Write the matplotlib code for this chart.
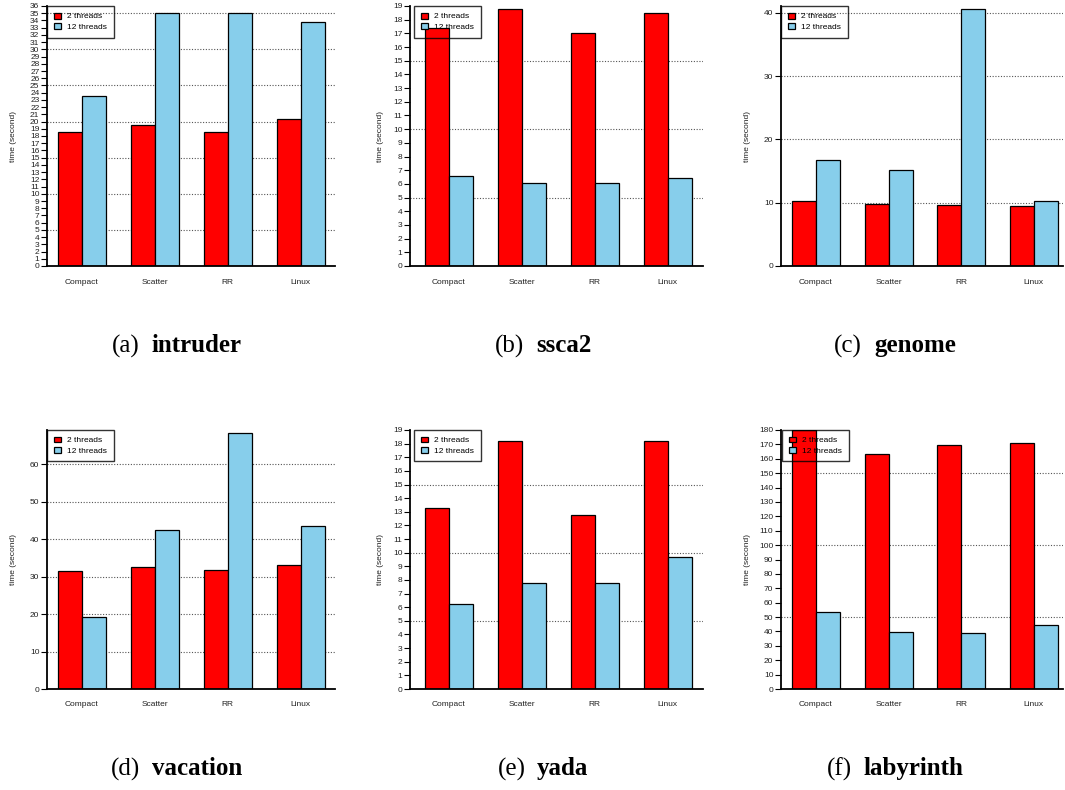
import matplotlib
matplotlib.use("Agg")
import matplotlib.pyplot as plt
import numpy as np
from matplotlib.offsetbox import TextArea, HPacker, AnchoredOffsetbox

plt.rcParams['font.family'] = ['Liberation Sans', 'DejaVu Sans']

# ---------------- data ----------------
categories = ["Compact", "Scatter", "RR", "Linux"]
series_labels = ["2 threads", "12 threads"]
benchmarks = ["intruder", "ssca2", "genome", "vacation", "yada", "labyrinth"]
letters = ["(a)", "(b)", "(c)", "(d)", "(e)", "(f)"]

intruder_2 = [18.5, 19.5, 18.5, 20.3]
intruder_12 = [23.5, 35.0, 35.1, 33.8]
ssca2_2 = [17.4, 18.8, 17.0, 18.5]
ssca2_12 = [6.6, 6.1, 6.1, 6.4]
genome_2 = [10.3, 9.8, 9.7, 9.5]
genome_12 = [16.8, 15.2, 40.6, 10.3]
vacation_2 = [31.6, 32.6, 31.7, 33.1]
vacation_12 = [19.2, 42.4, 68.3, 43.6]
yada_2 = [13.3, 18.2, 12.8, 18.2]
yada_12 = [6.2, 7.8, 7.8, 9.7]
labyrinth_2 = [180.0, 163.0, 169.5, 170.7]
labyrinth_12 = [53.7, 39.7, 39.0, 44.3]

ylabel_text = "time (second)"

# ---------------- layout / styles ----------------
W, H = 1065, 790
series = [(intruder_2, intruder_12), (ssca2_2, ssca2_12), (genome_2, genome_12),
          (vacation_2, vacation_12), (yada_2, yada_12), (labyrinth_2, labyrinth_12)]
boxes = [(47, 6, 335, 266), (410, 6, 703, 266), (781, 6, 1063, 266),
         (47, 430, 335, 689), (410, 430, 703, 689), (781, 430, 1063, 689)]
xlims = [(-0.48, 3.47), (-0.53, 3.48), (-0.48, 3.40),
         (-0.48, 3.47), (-0.53, 3.48), (-0.48, 3.40)]
ytop = [36, 19, 41.1, 69.1, 19, 180]
tick_max = [36, 19, 40, 60, 19, 180]
tick_step = [1, 1, 10, 10, 1, 10]
grid_step = [5, 5, 10, 10, 5, 50]
ylabel_px = [17, 384, 751, 17, 384, 751]
legend_left_px = [47, 414, 781, 47, 414, 782]
caption_center = [(177, 346), (543, 346), (895, 346),
                  (177, 769), (543, 769), (895, 769)]

red = "#ff0000"
blue = "#87ceeb"
bw = 0.33

fig = plt.figure(figsize=(W / 100, H / 100), dpi=100)

for i in range(6):
    x0, y0, x1, y1 = boxes[i]
    ax = fig.add_axes([x0 / W, 1 - y1 / H, (x1 - x0) / W, (y1 - y0) / H])
    v2, v12 = series[i]
    x = np.arange(len(categories))
    ax.bar(x - bw / 2, v2, bw, color=red, edgecolor="black", linewidth=0.9,
           label=series_labels[0], zorder=2)
    ax.bar(x + bw / 2, v12, bw, color=blue, edgecolor="black", linewidth=0.9,
           label=series_labels[1], zorder=2)
    ax.set_xlim(*xlims[i])
    ax.set_ylim(0, ytop[i])
    ax.set_xticks(x)
    ax.set_xticklabels(categories)
    ax.set_yticks(np.arange(0, tick_max[i] + 0.01, tick_step[i]))
    for g in np.arange(grid_step[i], ytop[i] + 0.01, grid_step[i]):
        ax.axhline(g, color="#555555", linestyle=(0, (1, 1.5)), linewidth=0.8, zorder=1)
    for s in ("top", "right"):
        ax.spines[s].set_visible(False)
    for s in ("left", "bottom"):
        ax.spines[s].set_linewidth(1.3)
        ax.spines[s].set_color("black")
    ax.tick_params(axis="x", length=0, pad=9, labelsize=6, labelcolor="#222222")
    ax.tick_params(axis="y", length=4, width=0.8, pad=1.5, labelsize=6,
                   labelcolor="#222222")
    ax.set_ylabel(ylabel_text, fontsize=6, color="#222222")
    ax.yaxis.set_label_coords((ylabel_px[i] - x0) / (x1 - x0), 0.5)
    leg = ax.legend(loc="upper left",
                    bbox_to_anchor=((legend_left_px[i] - x0) / (x1 - x0), 1.0),
                    borderaxespad=0, frameon=True, fancybox=False,
                    edgecolor="black", facecolor="none", fontsize=6,
                    handlelength=0.9, handleheight=0.7, handletextpad=0.7,
                    labelspacing=0.3, borderpad=0.8)
    leg.get_frame().set_linewidth(1.0)
    leg.set_zorder(3)

    # caption
    t1 = TextArea(letters[i], textprops=dict(fontsize=18, family="Liberation Serif"))
    t2 = TextArea(benchmarks[i], textprops=dict(fontsize=18, family="Liberation Serif",
                                                fontweight="bold"))
    pack = HPacker(children=[t1, t2], align="baseline", pad=0, sep=8.5)
    cx, cy = caption_center[i]
    ab = AnchoredOffsetbox(loc="center", child=pack, pad=0, borderpad=0, frameon=False,
                           bbox_to_anchor=(cx / W, 1 - cy / H),
                           bbox_transform=fig.transFigure)
    fig.add_artist(ab)

fig.savefig("out.png", dpi=100)
